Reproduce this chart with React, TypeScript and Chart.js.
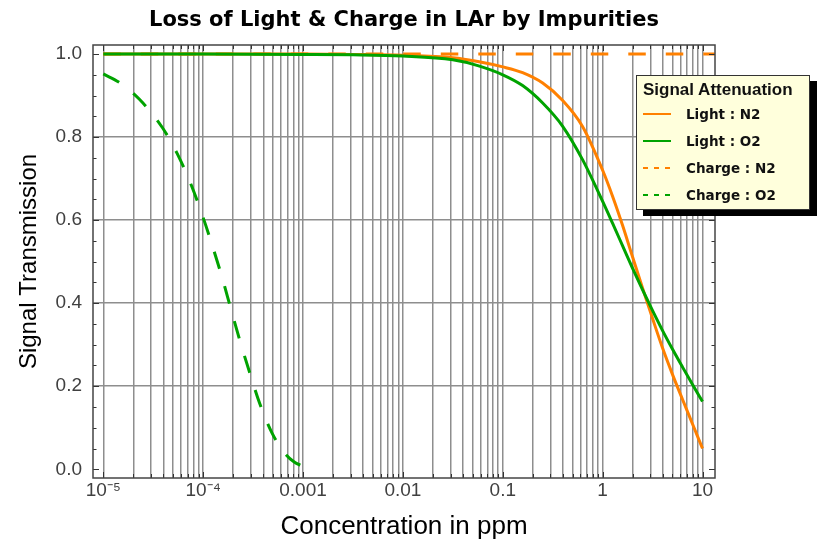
import React, { useEffect, useRef } from "react";
import { Chart, registerables } from "chart.js";

Chart.register(...registerables);

const TITLE = "Loss of Light & Charge in LAr by Impurities";
const X_TITLE = "Concentration in ppm";
const Y_TITLE = "Signal Transmission";
const LEGEND_TITLE = "Signal Attenuation";
const SERIES_NAMES = ["Light : N2", "Light : O2", "Charge : N2", "Charge : O2"];

const X_DECADES = [1e-5, 1e-4, 1e-3, 0.01, 0.1, 1, 10];
const X_DECADE_LABELS = ["10⁻⁵", "10⁻⁴", "0.001", "0.01", "0.1", "1", "10"];
const Y_TICKS = [0, 0.2, 0.4, 0.6, 0.8, 1.0];
const Y_TICK_LABELS = ["0.0", "0.2", "0.4", "0.6", "0.8", "1.0"];

const LIGHT_N2_X = [1e-5, 1e-4, 1e-3, 0.00316, 0.01, 0.0316, 0.0562, 0.1, 0.158, 0.251, 0.398, 0.631, 1.0, 1.259, 1.585, 1.995, 2.512, 3.162, 3.981, 5.012, 6.31, 7.943, 10.0];
const LIGHT_N2_Y = [1, 1, 1, 0.999, 0.997, 0.991, 0.982, 0.969, 0.955, 0.93, 0.888, 0.825, 0.72, 0.657, 0.587, 0.511, 0.436, 0.363, 0.292, 0.228, 0.168, 0.109, 0.05];

const LIGHT_O2_X = [1e-5, 1e-4, 1e-3, 0.00316, 0.01, 0.0316, 0.0562, 0.1, 0.158, 0.251, 0.398, 0.631, 1.0, 1.259, 1.585, 1.995, 2.512, 3.162, 3.981, 5.012, 6.31, 7.943, 10.0];
const LIGHT_O2_Y = [1, 1, 0.999, 0.998, 0.995, 0.986, 0.972, 0.95, 0.924, 0.882, 0.826, 0.745, 0.645, 0.592, 0.538, 0.484, 0.432, 0.382, 0.334, 0.289, 0.246, 0.204, 0.163];

const CHARGE_N2_X = [1e-5, 13.3];
const CHARGE_N2_Y = [1, 1];

const CHARGE_O2_X = [1e-5, 1.48e-5, 2.3e-5, 3.9e-5, 5.5e-5, 7.7e-5, 1e-4, 1.26e-4, 1.56e-4, 1.9e-4, 2.33e-4, 2.93e-4, 3.7e-4, 4.9e-4, 6.5e-4, 8.1e-4, 1e-3];
const CHARGE_O2_Y = [0.952, 0.93, 0.891, 0.823, 0.76, 0.681, 0.606, 0.532, 0.459, 0.385, 0.31, 0.232, 0.157, 0.087, 0.04, 0.018, 0.007];

const ORANGE = "#ff8000";
const GREEN = "#00a300";
const GRID = "#8e8e8e";

const X_MIN = Math.pow(10, -5.103);
const X_MAX = Math.pow(10, 1.125);
const Y_MIN = -0.021;
const Y_MAX = 1.0217;

// grid positions: 1..9 times each decade
const X_GRID: number[] = [];
for (let i = 0; i < X_DECADES.length - 1; i++) {
  for (let k = 1; k <= 9; k++) X_GRID.push(Number((X_DECADES[i] * k).toPrecision(6)));
}
X_GRID.push(X_DECADES[X_DECADES.length - 1]);

const pts = (xs: number[], ys: number[]) => xs.map((x, i) => ({ x, y: ys[i] }));

const framePlugin = {
  id: "frameTicks",
  afterDraw(chart: any) {
    const { ctx, chartArea: a, scales } = chart;
    const xs = scales.x;
    const ys = scales.y;
    ctx.save();
    ctx.strokeStyle = "#333";
    ctx.lineWidth = 1;
    ctx.beginPath();
    for (const v of X_GRID) {
      const px = Math.round(xs.getPixelForValue(v)) + 0.5;
      const len = X_DECADES.includes(v) ? 6 : 4;
      ctx.moveTo(px, a.bottom);
      ctx.lineTo(px, a.bottom - len);
      ctx.moveTo(px, a.top);
      ctx.lineTo(px, a.top + len);
    }
    for (let i = 0; i <= 20; i++) {
      const py = Math.round(ys.getPixelForValue(i * 0.05)) + 0.5;
      const len = i % 4 === 0 ? 6 : 3.5;
      ctx.moveTo(a.left, py);
      ctx.lineTo(a.left + len, py);
      ctx.moveTo(a.right, py);
      ctx.lineTo(a.right - len, py);
    }
    ctx.stroke();
    ctx.strokeStyle = "#444";
    ctx.lineWidth = 1.5;
    ctx.strokeRect(a.left, a.top, a.right - a.left, a.bottom - a.top);
    ctx.restore();
  },
};

const LEGEND_ITEMS = [
  { name: SERIES_NAMES[0], color: ORANGE, dashed: false, yc: 114 },
  { name: SERIES_NAMES[1], color: GREEN, dashed: false, yc: 141 },
  { name: SERIES_NAMES[2], color: ORANGE, dashed: true, yc: 168 },
  { name: SERIES_NAMES[3], color: GREEN, dashed: true, yc: 195 },
];

function Legend() {
  const L = 636;
  const T = 75;
  return (
    <div
      style={{
        position: "absolute",
        left: L,
        top: T,
        width: 174,
        height: 135,
        boxSizing: "border-box",
        background: "#ffffdc",
        border: "1px solid #333",
        boxShadow: "7px 6px 0 #000",
      }}
    >
      <div
        style={{
          position: "absolute",
          left: 643 - L - 1,
          top: 90 - T - 1 - 11,
          font: 'bold 17px "Liberation Sans", Arial, sans-serif',
          lineHeight: "22px",
          whiteSpace: "nowrap",
          color: "#111",
        }}
      >
        {LEGEND_TITLE}
      </div>
      {LEGEND_ITEMS.map((it) => (
        <React.Fragment key={it.name}>
          <svg
            width={28}
            height={4}
            style={{ position: "absolute", left: 643 - L - 1, top: it.yc - T - 1 - 2 }}
          >
            <line
              x1={0}
              y1={2}
              x2={28}
              y2={2}
              stroke={it.color}
              strokeWidth={2}
              strokeDasharray={it.dashed ? "5 6" : undefined}
            />
          </svg>
          <div
            style={{
              position: "absolute",
              left: 686 - L - 1,
              top: it.yc - T - 1 - 10,
              font: 'bold 13.5px "DejaVu Sans", sans-serif',
              lineHeight: "20px",
              whiteSpace: "nowrap",
              color: "#111",
            }}
          >
            {it.name}
          </div>
        </React.Fragment>
      ))}
    </div>
  );
}

export default function App() {
  const ref = useRef<HTMLCanvasElement>(null);
  useEffect(() => {
    const chart = new Chart(ref.current as HTMLCanvasElement, {
      type: "line",
      data: {
        datasets: [
          {
            label: SERIES_NAMES[3],
            data: pts(CHARGE_O2_X, CHARGE_O2_Y),
            borderColor: GREEN,
            borderWidth: 3,
            borderDash: [18, 18],
            pointRadius: 0,
            cubicInterpolationMode: "monotone",
            order: 0,
          },
          {
            label: SERIES_NAMES[1],
            data: pts(LIGHT_O2_X, LIGHT_O2_Y),
            borderColor: GREEN,
            borderWidth: 3,
            pointRadius: 0,
            cubicInterpolationMode: "monotone",
            order: 1,
          },
          {
            label: SERIES_NAMES[2],
            data: pts(CHARGE_N2_X, CHARGE_N2_Y),
            borderColor: ORANGE,
            borderWidth: 3,
            borderDash: [17.5, 20],
            pointRadius: 0,
            order: 2,
          },
          {
            label: SERIES_NAMES[0],
            data: pts(LIGHT_N2_X, LIGHT_N2_Y),
            borderColor: ORANGE,
            borderWidth: 3,
            pointRadius: 0,
            cubicInterpolationMode: "monotone",
            order: 3,
          },
        ],
      },
      options: {
        animation: false,
        responsive: false,
        devicePixelRatio: 1,
        layout: { padding: { left: 0, right: 104, top: 0, bottom: 0 } },
        plugins: {
          legend: { display: false },
          tooltip: { enabled: false },
          title: {
            display: true,
            text: TITLE,
            fullSize: false,
            color: "#000",
            font: { family: '"DejaVu Sans", sans-serif', weight: "bold", size: 21 },
            padding: { top: 8, bottom: 11.8 },
          },
        },
        scales: {
          x: {
            type: "logarithmic",
            min: X_MIN,
            max: X_MAX,
            afterBuildTicks: (scale: any) => {
              scale.ticks = X_GRID.map((v) => ({ value: v }));
            },
            afterFit: (scale: any) => {
              scale.height = 63;
            },
            ticks: {
              autoSkip: false,
              maxRotation: 0,
              padding: 1,
              color: "#404040",
              font: { family: '"Liberation Sans", Arial, sans-serif', size: 19 },
              callback: (value: any) => {
                const i = X_DECADES.findIndex((d) => Math.abs(d - value) / d < 1e-6);
                return i >= 0 ? X_DECADE_LABELS[i] : "";
              },
            },
            grid: { color: GRID, lineWidth: 1.5, drawTicks: false },
            border: { display: false },
            title: {
              display: true,
              text: X_TITLE,
              color: "#000",
              font: { family: '"Liberation Sans", Arial, sans-serif', size: 26 },
              padding: { top: 0, bottom: -1 },
            },
          },
          y: {
            type: "linear",
            min: Y_MIN,
            max: Y_MAX,
            afterBuildTicks: (scale: any) => {
              scale.ticks = Y_TICKS.map((v) => ({ value: v }));
            },
            afterFit: (scale: any) => {
              scale.width = 93;
            },
            ticks: {
              padding: 11,
              color: "#404040",
              font: { family: '"Liberation Sans", Arial, sans-serif', size: 19 },
              callback: (value: any) => {
                const i = Y_TICKS.findIndex((t) => Math.abs(t - value) < 1e-6);
                return i >= 0 ? Y_TICK_LABELS[i] : "";
              },
            },
            grid: {
              color: (c: any) =>
                c.tick && (Math.abs(c.tick.value) < 1e-6 || Math.abs(c.tick.value - 1) < 1e-6)
                  ? "rgba(0,0,0,0)"
                  : GRID,
              lineWidth: 1.5,
              drawTicks: false,
            },
            border: { display: false },
            title: {
              display: true,
              text: Y_TITLE,
              color: "#000",
              font: { family: '"Liberation Sans", Arial, sans-serif', size: 24 },
              padding: { top: 14.5, bottom: 0 },
            },
          },
        },
      },
      plugins: [framePlugin],
    } as any);
    return () => chart.destroy();
  }, []);
  return (
    <div style={{ position: "absolute", left: 0, top: 0, width: 819, height: 541, background: "#fff" }}>
      <canvas ref={ref} width={819} height={541} style={{ display: "block", width: 819, height: 541 }} />
      <Legend />
    </div>
  );
}
